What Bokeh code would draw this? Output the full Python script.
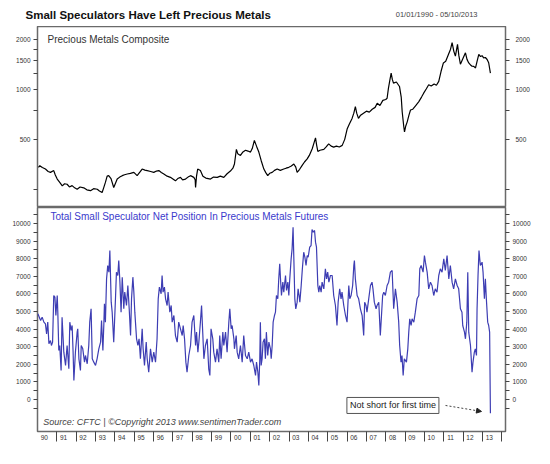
from bokeh.plotting import figure
from bokeh.layouts import column, row
from bokeh.models import (Range1d, FixedTicker, LinearAxis, LogAxis, Label, Arrow,
                          NormalHead, NumeralTickFormatter, CustomJSTickFormatter)
from bokeh.embed import file_html
from bokeh.resources import INLINE

FONT = "Liberation Sans"

# ---------------- data ----------------
comp_year = [1990.05, 1990.12, 1990.25, 1990.41, 1990.55, 1990.67, 1990.84, 1990.92, 1991.02, 1991.15,
             1991.28, 1991.40, 1991.53, 1991.65, 1991.79, 1991.92, 1992.05, 1992.20, 1992.39, 1992.55,
             1992.74, 1992.90, 1993.09, 1993.20, 1993.34, 1993.42, 1993.51, 1993.60, 1993.68, 1993.80,
             1993.94, 1994.02, 1994.12, 1994.25, 1994.38, 1994.50, 1994.64, 1994.80, 1994.98, 1995.15,
             1995.30, 1995.41, 1995.55, 1995.67, 1995.85, 1996.01, 1996.15, 1996.27, 1996.40, 1996.53,
             1996.70, 1996.87, 1997.00, 1997.13, 1997.25, 1997.39, 1997.50, 1997.65, 1997.78, 1997.91,
             1998.08, 1998.15, 1998.17, 1998.22, 1998.28, 1998.42, 1998.55, 1998.70, 1998.94, 1999.10,
             1999.29, 1999.45, 1999.63, 1999.80, 1999.97, 2000.10, 2000.18, 2000.28, 2000.35, 2000.49,
             2000.62, 2000.75, 2000.88, 2001.01, 2001.10, 2001.21, 2001.32, 2001.44, 2001.56, 2001.70,
             2001.80, 2001.90, 2002.00, 2002.13, 2002.25, 2002.39, 2002.55, 2002.73, 2002.85, 2002.99,
             2003.12, 2003.25, 2003.35, 2003.42, 2003.55, 2003.68, 2003.80, 2003.94, 2004.05, 2004.20,
             2004.30, 2004.37, 2004.43, 2004.49, 2004.60, 2004.80, 2004.92, 2005.05, 2005.18, 2005.31,
             2005.45, 2005.60, 2005.75, 2005.88, 2006.01, 2006.12, 2006.26, 2006.35, 2006.43, 2006.50,
             2006.59, 2006.70, 2006.85, 2007.00, 2007.15, 2007.30, 2007.45, 2007.56, 2007.70, 2007.85,
             2008.00, 2008.07, 2008.14, 2008.22, 2008.28, 2008.34, 2008.40, 2008.55, 2008.71, 2008.80,
             2008.85, 2008.93, 2008.97, 2009.03, 2009.11, 2009.20, 2009.28, 2009.40, 2009.55, 2009.71,
             2009.85, 2009.96, 2010.10, 2010.22, 2010.35, 2010.50, 2010.62, 2010.74, 2010.86, 2010.98,
             2011.10, 2011.24, 2011.35, 2011.43, 2011.52, 2011.60, 2011.71, 2011.78, 2011.86, 2011.95,
             2012.12, 2012.20, 2012.29, 2012.40, 2012.46, 2012.55, 2012.64, 2012.72, 2012.81, 2012.90,
             2012.98, 2013.06, 2013.15, 2013.24, 2013.32, 2013.41]
comp_value = [339, 347, 338, 331, 320, 316, 324, 305, 288, 275,
              262, 270, 268, 258, 263, 255, 250, 258, 255, 248,
              245, 252, 250, 244, 239, 255, 275, 300, 302, 290,
              256, 270, 288, 296, 302, 306, 309, 312, 316, 302,
              318, 331, 326, 324, 320, 316, 322, 324, 316, 309,
              300, 295, 288, 281, 290, 295, 285, 288, 296, 302,
              295, 285, 256, 300, 331, 324, 300, 292, 288, 296,
              295, 300, 295, 310, 322, 335, 355, 435, 410, 400,
              420, 430, 425, 419, 440, 493, 455, 419, 373, 331,
              315, 302, 312, 316, 325, 331, 325, 331, 335, 339,
              345, 355, 340, 316, 330, 348, 365, 381, 400, 439,
              480, 510, 460, 423, 430, 435, 450, 470, 455, 449,
              455, 450, 460, 500, 580, 620, 669, 720, 788, 720,
              669, 700, 720, 740, 730, 760, 780, 825, 800, 860,
              870, 885, 1019, 1150, 1257, 1150, 1093, 1110, 1043, 900,
              734, 600, 555, 600, 638, 700, 752, 760, 800, 845,
              900, 950, 1010, 1068, 1050, 1080, 1060, 1119, 1288, 1447,
              1480, 1627, 1750, 1916, 1700, 1589, 1873, 1600, 1420, 1500,
              1665, 1520, 1447, 1400, 1381, 1380, 1349, 1480, 1627, 1580,
              1600, 1552, 1560, 1517, 1450, 1257]

net_year = [1990.02, 1990.16, 1990.24, 1990.33, 1990.41, 1990.47, 1990.53, 1990.59, 1990.67, 1990.72,
            1990.78, 1990.84, 1990.90, 1990.95, 1991.02, 1991.05, 1991.10, 1991.15, 1991.22, 1991.27,
            1991.36, 1991.45, 1991.53, 1991.62, 1991.67, 1991.74, 1991.79, 1991.84, 1991.88, 1991.96,
            1992.05, 1992.08, 1992.14, 1992.22, 1992.26, 1992.34, 1992.43, 1992.48, 1992.57, 1992.65,
            1992.70, 1992.77, 1992.83, 1992.91, 1993.00, 1993.08, 1993.17, 1993.26, 1993.31, 1993.38,
            1993.43, 1993.46, 1993.51, 1993.57, 1993.63, 1993.69, 1993.74, 1993.81, 1993.86, 1993.94,
            1994.03, 1994.08, 1994.15, 1994.20, 1994.26, 1994.32, 1994.38, 1994.46, 1994.51, 1994.60,
            1994.67, 1994.74, 1994.81, 1994.86, 1994.93, 1994.98, 1995.03, 1995.12, 1995.19, 1995.25,
            1995.32, 1995.41, 1995.46, 1995.53, 1995.62, 1995.67, 1995.75, 1995.84, 1995.93, 1996.01,
            1996.10, 1996.18, 1996.24, 1996.30, 1996.39, 1996.44, 1996.49, 1996.56, 1996.62, 1996.70,
            1996.75, 1996.84, 1996.91, 1996.96, 1997.05, 1997.13, 1997.22, 1997.30, 1997.39, 1997.48,
            1997.53, 1997.60, 1997.67, 1997.73, 1997.82, 1997.91,
            1997.99, 1998.08, 1998.17, 1998.22, 1998.29, 1998.34, 1998.42, 1998.48, 1998.54, 1998.60,
            1998.68, 1998.77, 1998.85, 1998.91, 1998.97, 1999.06, 1999.11, 1999.20, 1999.28, 1999.37,
            1999.42, 1999.49, 1999.58, 1999.63, 1999.72, 1999.80, 1999.89, 1999.94, 2000.01, 2000.06,
            2000.15, 2000.18, 2000.27, 2000.32, 2000.40, 2000.49, 2000.58, 2000.66, 2000.75, 2000.84,
            2000.92, 2001.01, 2001.09, 2001.18, 2001.27, 2001.32, 2001.39, 2001.44, 2001.49, 2001.52,
            2001.56, 2001.61, 2001.66, 2001.73, 2001.78, 2001.83, 2001.90, 2001.96, 2002.04, 2002.08,
            2002.13, 2002.18, 2002.25, 2002.30, 2002.35, 2002.42, 2002.47, 2002.52, 2002.56, 2002.61,
            2002.68, 2002.73, 2002.82, 2002.87, 2002.94, 2002.99, 2003.04, 2003.11, 2003.16, 2003.21,
            2003.25, 2003.30, 2003.35, 2003.42, 2003.47, 2003.52, 2003.56, 2003.63, 2003.69, 2003.76,
            2003.82, 2003.88, 2003.94, 2003.99, 2004.07, 2004.14, 2004.19, 2004.25, 2004.32, 2004.37,
            2004.42, 2004.49, 2004.54, 2004.59, 2004.66, 2004.71, 2004.80, 2004.88, 2004.94, 2005.00,
            2005.06, 2005.14,
            2005.23, 2005.31, 2005.40, 2005.48, 2005.54, 2005.62, 2005.69, 2005.74, 2005.83, 2005.92,
            2006.00, 2006.09, 2006.14, 2006.21, 2006.29, 2006.35, 2006.38, 2006.43, 2006.52, 2006.60,
            2006.69, 2006.78, 2006.86, 2006.91, 2006.98, 2007.03, 2007.12, 2007.21, 2007.29, 2007.34,
            2007.41, 2007.50, 2007.55, 2007.64, 2007.72, 2007.78, 2007.84, 2007.90, 2007.98, 2008.07,
            2008.15, 2008.24, 2008.33, 2008.41, 2008.50, 2008.59, 2008.67, 2008.72, 2008.79, 2008.84,
            2008.90, 2008.96, 2009.07, 2009.14, 2009.19, 2009.24, 2009.31, 2009.36, 2009.45, 2009.53,
            2009.62, 2009.71, 2009.76, 2009.83, 2009.93, 2010.00, 2010.05, 2010.14, 2010.22, 2010.31,
            2010.39, 2010.48, 2010.56, 2010.65, 2010.74, 2010.82, 2010.91, 2011.00, 2011.08, 2011.17,
            2011.26, 2011.34, 2011.43, 2011.51, 2011.60, 2011.69, 2011.77, 2011.86, 2011.94, 2011.98,
            2012.07, 2012.12, 2012.19, 2012.24, 2012.29, 2012.38, 2012.46, 2012.51, 2012.58, 2012.63,
            2012.69, 2012.72, 2012.77, 2012.82, 2012.89, 2012.98, 2013.03, 2013.10, 2013.15, 2013.20,
            2013.27, 2013.32, 2013.37, 2013.41]
net_value = [4868, 4489, 4678, 4394, 4299, 3731, 4394, 3163, 3352, 3068,
             3258, 5909, 5815, 4773, 5909, 4962, 2784, 3068, 1648, 4678,
             2689, 1932, 3068, 1742, 4394, 3921, 4205, 2689, 1080, 2689,
             3826, 4015, 2311, 1648, 3068, 2879, 2121, 2500, 2027, 3068,
             4394, 5152, 2311, 2121, 1932, 2311, 2879, 3258, 4489, 2784,
             4299, 5436, 4394, 6856, 7614, 7235, 8466, 5530, 4962, 3258,
             5720, 7235, 7046, 7898, 6667, 4962, 6951, 5152, 6099, 5341,
             6477, 5152, 3636, 5720, 6951, 6099, 4962, 3447, 3068, 3447,
             2311, 4015, 2879, 1932, 3258, 2311, 1553, 2879, 2121, 2689,
             2121, 3447, 5720, 6383, 6004, 7046, 6099, 6383, 5720, 5341,
             6099, 4962, 5341, 4394, 4773, 3636, 3258, 4394, 4015, 3636,
             4205, 3447, 2121, 1553, 2500, 3068,
             4394, 4773, 3068, 3826, 2689, 3258, 4394, 5341, 3826, 2311,
             3068, 3447, 1742, 1364, 4015, 3447, 2689, 2121, 2879, 2121,
             3636, 2311, 3826, 3068, 3826, 2689, 4394, 5152, 4015, 4205,
             3447, 2879, 3636, 2689, 2311, 3068, 2121, 3636, 2500, 2311,
             2689, 2121, 2311, 1932, 1364, 2121, 1553, 795, 2311, 4394,
             1932, 2311, 3258, 3447, 2311, 3826, 2500, 3258, 2879, 2311,
             3068, 4394, 4773, 4962, 5909, 5720, 6856, 7709, 6856, 5909,
             6667, 6099, 7046, 6193, 6667, 5909, 6856, 7993, 8561, 9792,
             7993, 5720, 5152, 5530, 6288, 5909, 5530, 6477, 7424, 8371,
             8087, 7614, 8182, 8087, 8656, 8750, 9659, 9508, 9603, 8940,
             8656, 6477, 6099, 6477, 6099, 6667, 6288, 7424, 6856, 7235,
             6667, 7046,
             7046, 5909, 5341, 4205, 5530, 6288, 5720, 6099, 5341, 4773,
             4394, 6477, 5720, 5909, 6477, 7614, 7898, 6856, 5909, 5720,
             5152, 4773, 3636, 5530, 5341, 4962, 5720, 6477, 6667, 6288,
             5530, 5152, 5341, 5530, 3636, 4773, 5909, 6099, 5909, 6477,
             6667, 7235, 7330, 5152, 6288, 5530, 4394, 3068, 2121, 2500,
             1364, 2311, 2121, 2879, 3826, 4583, 4205, 4583, 4394, 4962,
             5720, 5909, 7424, 7614, 7235, 8182, 7803, 7235, 6288, 6667,
             6477, 5909, 6288, 6099, 7046, 7424, 7235, 7993, 7330, 8182,
             6856, 7614, 6667, 6288, 6856, 6477, 6288, 5152, 4962, 4205,
             3826, 3447, 4394, 7235, 3826, 3068, 1553, 2121, 2689, 2879,
             2500, 5152, 7046, 8466, 7614, 7803, 7235, 5720, 6856, 5720,
             4394, 4205, 3826, -780]

label_years = list(range(1990, 2014))
boundary_years = list(range(1991, 2015))
top_major = [500, 1000, 1500, 2000]
top_minor = [250, 750, 1250, 1750]
bot_major = [0, 1000, 2000, 3000, 4000, 5000, 6000, 7000, 8000, 9000, 10000]
bot_minor = [-500, 500, 1500, 2500, 3500, 4500, 5500, 6500, 7500, 8500, 9500, 10500]

TITLE = "Small Speculators Have Left Precious Metals"
DATES = "01/01/1990 - 05/10/2013"

# ---------------- styling helpers ----------------
FRAME_COLOR = "#6a6a6a"
TICK_COLOR = "#444444"
LABEL_COLOR = "#333333"
LEFT, RIGHT = 37, 30
FRAME_W = 468
TOTAL_W = LEFT + FRAME_W + RIGHT


def style_y(ax, standoff):
    ax.axis_line_color = None
    ax.major_tick_in = 0
    ax.major_tick_out = 4
    ax.minor_tick_in = 0
    ax.minor_tick_out = 4
    ax.major_tick_line_color = TICK_COLOR
    ax.minor_tick_line_color = TICK_COLOR
    ax.major_label_text_font = FONT
    ax.major_label_text_font_size = "6.5px"
    ax.major_label_text_color = LABEL_COLOR
    ax.major_label_standoff = standoff
    ax.formatter = NumeralTickFormatter(format="0")


# ---------------- header (title strip) ----------------
head = figure(frame_width=TOTAL_W, frame_height=26, x_range=Range1d(0, TOTAL_W),
              y_range=Range1d(0, 26), x_axis_location=None, y_axis_location=None,
              toolbar_location=None, output_backend="svg",
              min_border_left=0, min_border_right=0, min_border_top=0, min_border_bottom=0)
head.grid.visible = False
head.outline_line_color = None
head.add_layout(Label(x=25, y=12, text=TITLE, text_font=FONT, text_font_size="11.5px",
                      text_font_style="bold", text_color="#111111",
                      text_baseline="middle", text_align="left"))
head.add_layout(Label(x=477, y=12, text=DATES, text_font=FONT, text_font_size="7.5px",
                      text_color="#444444", text_baseline="middle", text_align="right"))

x_range = Range1d(1990.0, 2014.19)

# ---------------- top panel ----------------
top = figure(frame_width=FRAME_W, frame_height=181, x_range=x_range,
             y_range=Range1d(194, 2400), y_axis_type="log",
             x_axis_location=None, toolbar_location=None, output_backend="svg",
             min_border_left=LEFT, min_border_right=RIGHT, min_border_top=0, min_border_bottom=0)
top.grid.visible = False
top.outline_line_color = FRAME_COLOR
top.outline_line_width = 1.5
top_ticker = FixedTicker(ticks=top_major, minor_ticks=top_minor)
top.yaxis.ticker = top_ticker
style_y(top.yaxis[0], 3)
top_right = LogAxis(ticker=top_ticker)
style_y(top_right, 6)
top.add_layout(top_right, "right")

top.line(comp_year, comp_value, line_color="black", line_width=1.2)

top.add_layout(Label(x=1990.52, y=1990, text="Precious Metals Composite",
                     text_font=FONT, text_font_size="10px", text_color="#333333",
                     text_baseline="middle", text_align="left"))

# ---------------- bottom panel ----------------
bot = figure(frame_width=FRAME_W, frame_height=224, x_range=x_range,
             y_range=Range1d(-1820, 10910),
             toolbar_location=None, output_backend="svg",
             min_border_left=LEFT, min_border_right=RIGHT, min_border_top=0, min_border_bottom=16)
bot.grid.visible = False
bot.outline_line_color = FRAME_COLOR
bot.outline_line_width = 1.5
bot_ticker = FixedTicker(ticks=bot_major, minor_ticks=bot_minor)
bot.yaxis.ticker = bot_ticker
style_y(bot.yaxis[0], 3)
bot_right = LinearAxis(ticker=bot_ticker)
style_y(bot_right, 3)
bot.add_layout(bot_right, "right")

xa = bot.xaxis[0]
xa.ticker = FixedTicker(ticks=[y + 0.35 for y in label_years], minor_ticks=boundary_years)
xa.formatter = CustomJSTickFormatter(code="return String(Math.floor(tick)).slice(2);")
xa.axis_line_color = None
xa.major_tick_in = 0
xa.major_tick_out = 0
xa.minor_tick_in = 0
xa.minor_tick_out = 10
xa.minor_tick_line_color = TICK_COLOR
xa.major_label_standoff = -7
xa.major_label_text_font = FONT
xa.major_label_text_font_size = "6.5px"
xa.major_label_text_color = LABEL_COLOR

bot.line(net_year, net_value, line_color="#3d3db3", line_width=1.2)

bot.add_layout(Label(x=1990.67, y=10400,
                     text="Total Small Speculator Net Position In Precious Metals Futures",
                     text_font=FONT, text_font_size="10px", text_color="#3a3acc",
                     text_baseline="middle", text_align="left"))
bot.add_layout(Label(x=1990.3, y=-1307,
                     text="Source:  CFTC  |  \u00a9Copyright 2013   www.sentimenTrader.com",
                     text_font=FONT, text_font_size="9px", text_font_style="italic",
                     text_color="#444444", text_baseline="middle", text_align="left"))
bot.add_layout(Label(x=2008.37, y=-340, text="Not short for first time",
                     text_font=FONT, text_font_size="9px", text_color="#222222",
                     text_baseline="middle", text_align="center",
                     border_line_color="#555555", border_line_width=1,
                     background_fill_color="white", padding=3))
bot.add_layout(Arrow(x_start=2011.09, y_start=-340, x_end=2012.95, y_end=-680,
                     line_color="#444444", line_width=1, line_dash="2 2",
                     end=NormalHead(size=5, fill_color="#222222", line_color="#222222")))

layout = column(row(head), top, bot, spacing=0)
open("out.html", "w").write(file_html(layout, INLINE))
